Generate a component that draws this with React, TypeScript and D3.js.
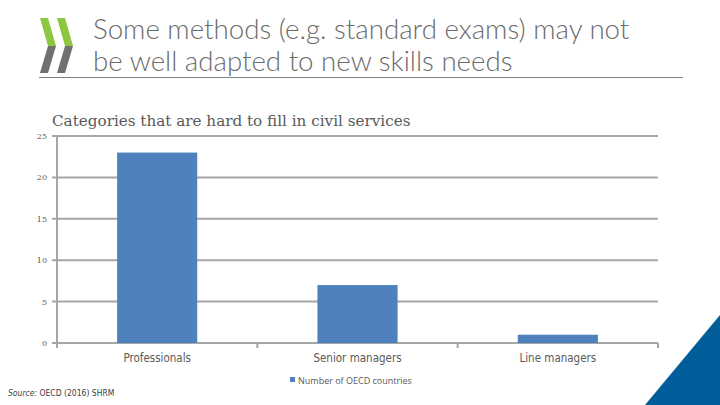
import React from 'react';
import * as d3 from 'd3';

const categories = ['Professionals', 'Senior managers', 'Line managers'];
const values = [23, 7, 1];
const yTicks = [0, 5, 10, 15, 20, 25];
const seriesName = 'Number of OECD countries';
const titleLines = ['Some methods (e.g. standard exams) may not', 'be well adapted to new skills needs'];
const chartTitle = 'Categories that are hard to fill in civil services';

const W = 720;
const H = 405;
const plot = { left: 57, right: 658, top: 136, bottom: 343 };

export default function App() {
  const x = d3.scaleBand<string>()
    .domain(categories)
    .range([plot.left, plot.right])
    .paddingInner(0.6)
    .paddingOuter(0.3);
  const y = d3.scaleLinear().domain([0, 25]).range([plot.bottom, plot.top]);
  const bandEdges = d3.range(categories.length + 1).map(i => plot.left + i * (plot.right - plot.left) / categories.length);

  const grey = '#a6a6a6';
  const text = '#595959';

  return (
    <div style={{ position: 'fixed', left: 0, top: 0, width: W, height: H, background: '#fff' }}>
      <svg width={W} height={H} style={{ display: 'block' }}>
        {/* logo chevrons */}
        {[0, 17].map(dx => (
          <g key={dx} transform={`translate(${40 + dx},0)`}>
            <polygon points="0,18 8,18 16,46 8,46" fill="#8dc63f" />
            <polygon points="8,46 16,46 8,73 0,73" fill="#707070" />
          </g>
        ))}
        {/* slide title */}
        {titleLines.map((t, i) => (
          <text key={i} x={93} y={39 + i * 32} fontFamily="Lato, 'Open Sans', sans-serif" fontWeight={300}
            fontSize={27.7} fill="#6b6b6b">{t}</text>
        ))}
        <line x1={39} x2={683} y1={77.5} y2={77.5} stroke="#7f7f7f" strokeWidth={1} />

        {/* chart title */}
        <text x={52} y={126} fontFamily="'DejaVu Serif', serif" fontSize={15.2} fill={text}>{chartTitle}</text>

        {/* gridlines */}
        {yTicks.map(t => (
          <g key={t}>
            <line x1={plot.left - 5} x2={plot.right} y1={y(t)} y2={y(t)} stroke={grey} strokeWidth={2} />
            <text x={47} y={y(t) + 3} textAnchor="end" fontFamily="'DejaVu Serif', serif" fontSize={8} fill={text}>{t}</text>
          </g>
        ))}
        <line x1={plot.left} x2={plot.left} y1={plot.top} y2={plot.bottom + 5} stroke={grey} strokeWidth={2} />
        {bandEdges.map((bx, i) => (
          <line key={i} x1={bx} x2={bx} y1={plot.bottom} y2={plot.bottom + 5} stroke={grey} strokeWidth={2} />
        ))}

        {/* bars */}
        {categories.map((c, i) => (
          <rect key={c} x={x(c)} width={x.bandwidth()} y={y(values[i])} height={y(0) - y(values[i])} fill="#4f81bd" />
        ))}

        {/* category labels */}
        {categories.map(c => (
          <text key={c} x={(x(c) || 0) + x.bandwidth() / 2} y={362} textAnchor="middle"
            fontFamily="'DejaVu Sans Condensed', 'DejaVu Sans', sans-serif" fontSize={11.5} fill={text}>{c}</text>
        ))}

        {/* legend */}
        <rect x={290} y={377} width={5} height={5} fill="#4f81bd" />
        <text x={298} y={384} fontFamily="'Open Sans', sans-serif" fontSize={9} fill={text}>{seriesName}</text>

        {/* source */}
        <text x={8} y={396} fontFamily="'DejaVu Sans Condensed', sans-serif" fontSize={8.5} fill="#404040">
          <tspan fontStyle="italic">Source:</tspan> OECD (2016) SHRM
        </text>

        {/* corner triangle */}
        <polygon points={`720,315 720,405 645,405`} fill="#005d99" />
      </svg>
    </div>
  );
}
